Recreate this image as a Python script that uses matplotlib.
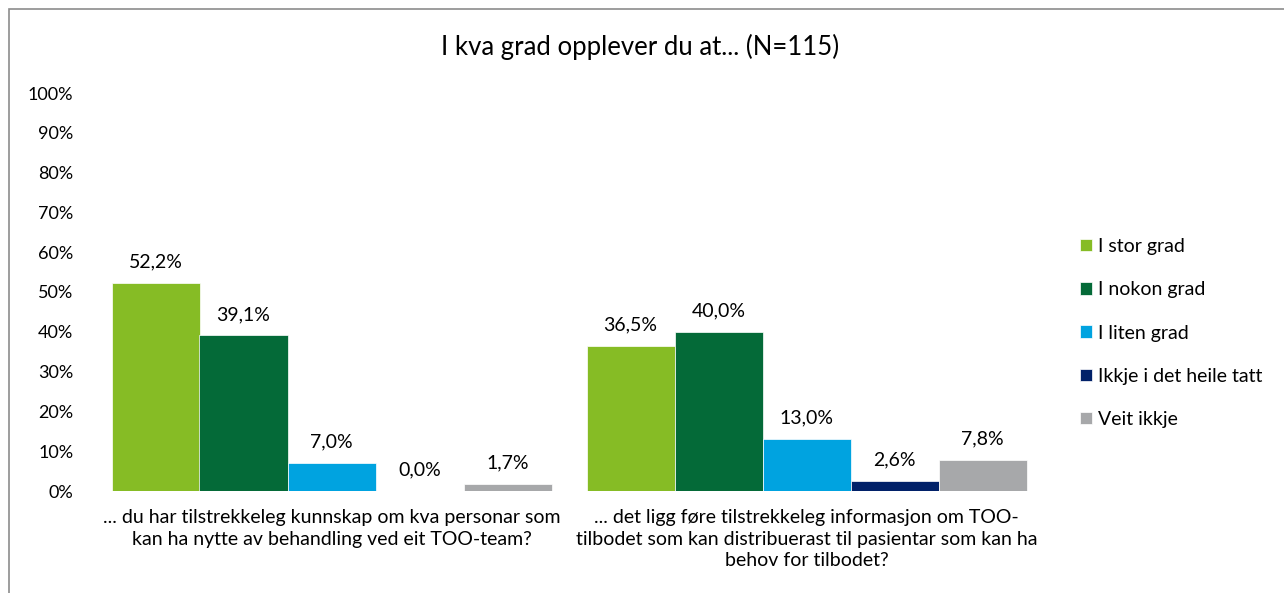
import matplotlib.pyplot as plt
import matplotlib.patches as mpatches
import numpy as np

plt.rcParams['font.family'] = ['Lato', 'DejaVu Sans']

kategoriar = ['... du har tilstrekkeleg kunnskap om kva personar som\nkan ha nytte av behandling ved eit TOO-team?',
              '... det ligg føre tilstrekkeleg informasjon om TOO-\ntilbodet som kan distribuerast til pasientar som kan ha\nbehov for tilbodet?']
svar = ['I stor grad', 'I nokon grad', 'I liten grad', 'Ikkje i det heile tatt', 'Veit ikkje']
verdiar = [[52.2, 36.5],
           [39.1, 40.0],
           [7.0, 13.0],
           [0.0, 2.6],
           [1.7, 7.8]]
fargar = ['#86BC25', '#046A38', '#00A3E0', '#012169', '#A7A8AA']
yticks = [0, 10, 20, 30, 40, 50, 60, 70, 80, 90, 100]

fig = plt.figure(figsize=(12.84, 5.93), dpi=100)
ax = fig.add_axes([94/1284, 102/593, 950/1284, 398/593])

# ramme rundt diagrammet
fig.patches.append(mpatches.Rectangle((9/1284, -0.1), 1.2, (593-9)/593 + 0.1,
                                      transform=fig.transFigure, fill=False,
                                      edgecolor='#8c8c8c', linewidth=1.2))

x = np.arange(len(kategoriar))
b = 440/475/5
for i, (namn, v) in enumerate(zip(svar, verdiar)):
    pos = x - 2*b + i*b
    bars = ax.bar(pos, v, width=b, color=fargar[i], label=namn,
                  edgecolor='white', linewidth=0.5)
    for xx, yy in zip(pos, v):
        ax.annotate(f'{yy:.1f}%'.replace('.', ','), (xx, yy), xytext=(0, 9),
                    textcoords='offset points', ha='center', va='bottom', fontsize=14)

ax.set_xlim(-0.5, 1.5)
ax.set_ylim(0, 100)
ax.set_yticks(yticks)
ax.set_yticklabels([f'{t}%' for t in yticks], fontsize=13)
ax.set_xticks(x)
ax.set_xticklabels(kategoriar, fontsize=14, linespacing=1.33)
ax.tick_params(axis='y', length=0, pad=15)
ax.tick_params(axis='x', length=0, pad=13)
for s in ax.spines.values():
    s.set_visible(False)

fig.text(640/1284, 1 - 47/593, 'I kva grad opplever du at... (N=115)', ha='center', va='center', fontsize=18.5)

ax.legend(loc='center left', bbox_to_anchor=(1080/1284, 1 - 333/593), bbox_transform=fig.transFigure,
          frameon=False, fontsize=14, handlelength=0.6, handleheight=0.6, handletextpad=0.35,
          labelspacing=1.35, borderpad=0, borderaxespad=0)

fig.savefig('out.png', dpi=100)
